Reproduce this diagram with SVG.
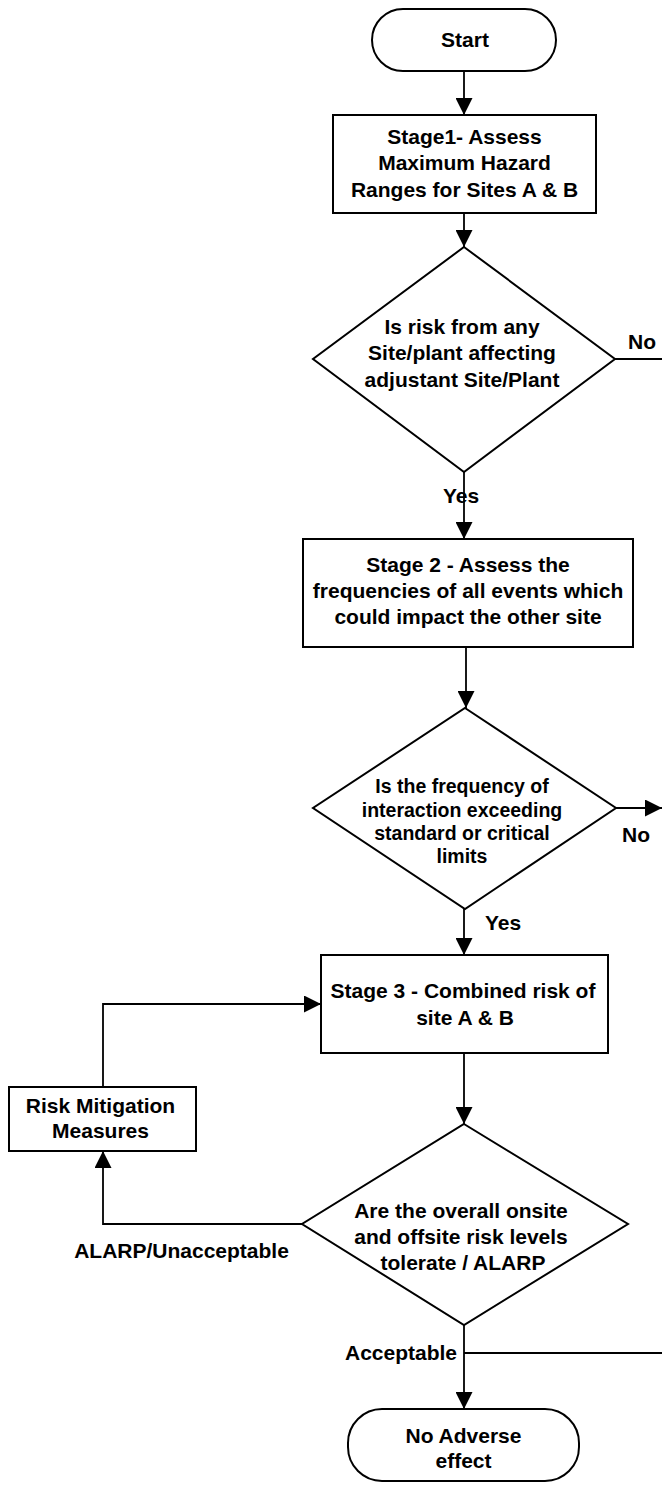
<svg xmlns="http://www.w3.org/2000/svg" width="662" height="1485" viewBox="0 0 662 1485">
  <style>
    .shape { fill: #ffffff; stroke: #000000; stroke-width: 2; }
    .conn { fill: none; stroke: #000000; stroke-width: 1.8; }
    text { font-family: "Liberation Sans", Arial, sans-serif; font-weight: bold; font-size: 21px; fill: #000000; }
    .c { text-anchor: middle; }
    .small { font-size: 19.5px; }
  </style>
  <defs>
    <marker id="arrow" markerUnits="userSpaceOnUse" markerWidth="17" markerHeight="17" refX="17" refY="8.5" orient="auto">
      <path d="M0,0 L17,8.5 L0,17 Z" fill="#000000"/>
    </marker>
  </defs>

  <rect width="662" height="1485" fill="#ffffff"/>

  <!-- connectors -->
  <g id="connectors">
    <path class="conn" d="M464,71 V115" marker-end="url(#arrow)"/>
    <path class="conn" d="M464,213 V247" marker-end="url(#arrow)"/>
    <path class="conn" d="M615,359 H662"/>
    <path class="conn" d="M464,472 V539" marker-end="url(#arrow)"/>
    <path class="conn" d="M466,647 V708" marker-end="url(#arrow)"/>
    <path class="conn" d="M616,808 H662" marker-end="url(#arrow)"/>
    <path class="conn" d="M464,909 V955" marker-end="url(#arrow)"/>
    <path class="conn" d="M464,1053 V1124" marker-end="url(#arrow)"/>
    <path class="conn" d="M302,1224 H103 V1151" marker-end="url(#arrow)"/>
    <path class="conn" d="M103,1087 V1004 H321" marker-end="url(#arrow)"/>
    <path class="conn" d="M464,1325 V1409" marker-end="url(#arrow)"/>
    <path class="conn" d="M464,1353 H662"/>
  </g>

  <!-- edge labels -->
  <g id="labels">
    <text x="628" y="349">No</text>
    <text x="443" y="503">Yes</text>
    <text x="622" y="842">No</text>
    <text x="485" y="930">Yes</text>
    <text class="c" x="181.5" y="1258">ALARP/Unacceptable</text>
    <text x="345" y="1360">Acceptable</text>
  </g>

  <g id="start">
    <rect class="shape" x="372" y="9" width="184" height="62" rx="31" ry="31"/>
    <text class="c" x="465" y="47">Start</text>
  </g>

  <g id="stage1">
    <rect class="shape" x="333" y="115" width="263" height="98"/>
    <text class="c" x="464.5" y="144">Stage1- Assess</text>
    <text class="c" x="464.5" y="170">Maximum Hazard</text>
    <text class="c" x="464.5" y="197">Ranges for Sites A &amp; B</text>
  </g>

  <g id="decision1">
    <polygon class="shape" points="464,247 615,359 464,472 313,359"/>
    <text class="c" x="462" y="334">Is risk from any</text>
    <text class="c" x="462" y="360">Site/plant affecting</text>
    <text class="c" x="462" y="387">adjustant Site/Plant</text>
  </g>

  <g id="stage2">
    <rect class="shape" x="303" y="539" width="330" height="108"/>
    <text class="c" x="468" y="572">Stage 2 - Assess the</text>
    <text class="c" x="468" y="598">frequencies of all events which</text>
    <text class="c" x="468" y="624">could impact the other site</text>
  </g>

  <g id="decision2">
    <polygon class="shape" points="465,708 616,808 465,909 313,808"/>
    <text class="c small" x="462" y="793">Is the frequency of</text>
    <text class="c small" x="462" y="817">interaction exceeding</text>
    <text class="c small" x="462" y="840">standard or critical</text>
    <text class="c small" x="462" y="863">limits</text>
  </g>

  <g id="stage3">
    <rect class="shape" x="321" y="955" width="287" height="98"/>
    <text class="c" x="463" y="998">Stage 3 - Combined risk of</text>
    <text class="c" x="465" y="1025">site A &amp; B</text>
  </g>

  <g id="mitigation">
    <rect class="shape" x="9" y="1087" width="187" height="64"/>
    <text class="c" x="100.5" y="1113">Risk Mitigation</text>
    <text class="c" x="100.5" y="1138">Measures</text>
  </g>

  <g id="decision3">
    <polygon class="shape" points="464,1124 628,1224 464,1325 302,1224"/>
    <text class="c" x="461" y="1218">Are the overall onsite</text>
    <text class="c" x="461" y="1244">and offsite risk levels</text>
    <text class="c" x="463" y="1270">tolerate / ALARP</text>
  </g>

  <g id="end">
    <rect class="shape" x="348" y="1409" width="231" height="72" rx="34" ry="34"/>
    <text class="c" x="463.5" y="1443">No Adverse</text>
    <text class="c" x="463.5" y="1468">effect</text>
  </g>
</svg>
